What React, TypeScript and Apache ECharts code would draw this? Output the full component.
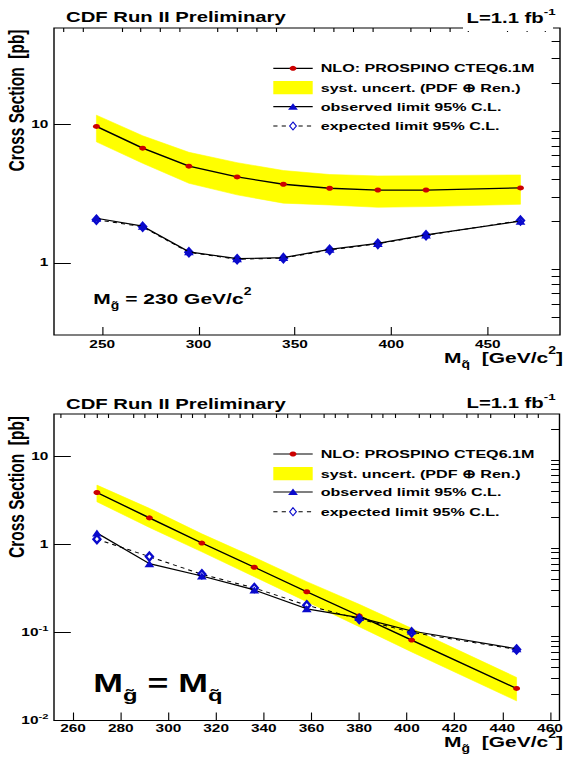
import React, { useEffect, useRef } from 'react';
import * as echarts from 'echarts';

// ---------- data ----------
// Upper panel: M_gluino = 230 GeV/c^2, x = squark mass
const topMass = [247, 271, 295, 320, 344, 368, 393, 418, 467];
const topNLO = [9.7, 6.75, 5.0, 4.18, 3.7, 3.46, 3.36, 3.36, 3.48];
const topBandUp = [11.7, 8.3, 6.3, 5.3, 4.65, 4.35, 4.25, 4.27, 4.32];
const topBandLo = [7.5, 5.25, 3.76, 3.1, 2.7, 2.62, 2.52, 2.55, 2.65];
const topObs = [2.1, 1.84, 1.2, 1.07, 1.09, 1.25, 1.38, 1.59, 2.0];
const topExp = [2.05, 1.82, 1.19, 1.06, 1.08, 1.24, 1.37, 1.58, 2.02];

// Lower panel: M_gluino = M_squark, x = gluino mass
const botMass = [270, 292, 314, 336, 358, 380, 402, 446];
const botNLO = [3.86, 1.99, 1.03, 0.548, 0.289, 0.154, 0.0817, 0.0231];
const botBandUp = [4.68, 2.55, 1.31, 0.71, 0.376, 0.208, 0.111, 0.0308];
const botBandLo = [3.03, 1.55, 0.82, 0.428, 0.223, 0.116, 0.06, 0.0167];
const botObs = [1.34, 0.602, 0.436, 0.303, 0.185, 0.147, 0.1035, 0.0651];
const botExp = [1.14, 0.723, 0.456, 0.319, 0.203, 0.142, 0.1, 0.064];

// tick values
const topXMajor = [250, 300, 350, 400, 450];
const topXMinor = [230, 240, 260, 270, 280, 290, 310, 320, 330, 340, 360, 370, 380, 390, 410, 420, 430, 440, 460, 470, 480];
const botXMajor = [260, 280, 300, 320, 340, 360, 380, 400, 420, 440, 460];
const botXMinor = [255, 265, 270, 275, 285, 290, 295, 305, 310, 315, 325, 330, 335, 345, 350, 355, 365, 370, 375, 385, 390, 395, 405, 410, 415, 425, 430, 435, 445, 450, 455];
const topYMajor = [1, 10];
const topYMinor = [0.4, 0.5, 0.6, 0.7, 0.8, 0.9, 2, 3, 4, 5, 6, 7, 8, 9, 20, 30, 40];
const botYMajor = [0.01, 0.1, 1, 10];
const botYMinor = [0.02, 0.03, 0.04, 0.05, 0.06, 0.07, 0.08, 0.09, 0.2, 0.3, 0.4, 0.5, 0.6, 0.7, 0.8, 0.9, 2, 3, 4, 5, 6, 7, 8, 9, 20];

const legendLabels = [
  'NLO: PROSPINO CTEQ6.1M',
  'syst. uncert. (PDF \u2295 Ren.)',
  'observed limit 95% C.L.',
  'expected limit 95% C.L.',
];

// ---------- layout ----------
const XS = 1.4; // the reference is horizontally stretched
const CW = 567 / XS;
const CH = 757;
const px = (v: number) => v / XS;
const FONT = '"Liberation Sans", Arial, Helvetica, sans-serif';
const RED = '#cc0000';
const BLUE = '#0a0acc';
const YELLOW = '#ffff00';

const GL = px(54);
const GW = px(560) - px(54);

function zip(xs: number[], ys: number[]) {
  return xs.map((x, i) => [x, ys[i]]);
}

function bandSeries(mass: number[], lo: number[], up: number[], ai: number) {
  return {
    type: 'custom',
    xAxisIndex: ai,
    yAxisIndex: ai,
    silent: true,
    z: 1,
    data: mass.map((m, i) => [m, lo[i], up[i]]),
    encode: { x: 0, y: [1, 2] },
    renderItem: (params: any, api: any) => {
      if (params.dataIndex !== 0) return null;
      const pts: number[][] = [];
      for (let i = 0; i < mass.length; i++) pts.push(api.coord([mass[i], up[i]]));
      for (let i = mass.length - 1; i >= 0; i--) pts.push(api.coord([mass[i], lo[i]]));
      return { type: 'polygon', shape: { points: pts }, style: { fill: YELLOW, stroke: YELLOW, lineWidth: 0.5 } };
    },
  };
}

function lineSeries(mass: number[], nlo: number[], obs: number[], exp: number[], ai: number) {
  return [
    {
      type: 'line', xAxisIndex: ai, yAxisIndex: ai, z: 3, data: zip(mass, nlo),
      symbol: 'circle', symbolSize: 5, showSymbol: true,
      itemStyle: { color: RED, borderWidth: 0 },
      lineStyle: { color: '#000', width: 1.3 },
    },
    {
      type: 'line', xAxisIndex: ai, yAxisIndex: ai, z: 4, data: zip(mass, exp),
      symbol: 'emptyDiamond', symbolSize: [5, 8], showSymbol: true,
      itemStyle: { color: BLUE, borderColor: BLUE, borderWidth: 0.9 },
      lineStyle: { color: '#000', width: 1, type: [3, 3] },
    },
    {
      type: 'line', xAxisIndex: ai, yAxisIndex: ai, z: 5, data: zip(mass, obs),
      symbol: 'triangle', symbolSize: 7, showSymbol: true,
      itemStyle: { color: BLUE, borderWidth: 0 },
      lineStyle: { color: '#000', width: 1.2 },
    },
  ];
}

const labelBase = { color: '#000', fontSize: 11, fontWeight: 'bold', fontFamily: FONT };
const tickX = { color: '#000', width: 0.8 };
const tickY = { color: '#000', width: 1 };

function xAxes(gi: number, min: number, max: number, major: number[], minor: number[], margin: number) {
  return [
    {
      gridIndex: gi, type: 'value', min, max,
      axisLine: { show: false }, splitLine: { show: false },
      axisTick: { show: true, inside: true, length: 8, customValues: major, lineStyle: tickX },
      axisLabel: { ...labelBase, margin, customValues: major },
    },
    {
      gridIndex: gi, type: 'value', min, max,
      axisLine: { show: false }, splitLine: { show: false },
      axisTick: { show: true, inside: true, length: 4, customValues: minor, lineStyle: tickX },
      axisLabel: { show: false },
    },
  ];
}

function yLabel(v: number) {
  const e = Math.round(Math.log10(v));
  if (e === 1) return '{b|10}';
  if (e === 0) return '{b|1}';
  return '{b|10}{s|' + e + '}';
}

function yAxes(gi: number, min: number, max: number, major: number[], minor: number[]) {
  return [
    {
      gridIndex: gi, type: 'log', logBase: 10, min, max,
      axisLine: { show: false }, splitLine: { show: false },
      axisTick: { show: true, inside: true, length: 12, customValues: major, lineStyle: tickY },
      axisLabel: {
        ...labelBase, margin: 4, customValues: major, formatter: yLabel,
        rich: {
          b: { ...labelBase, lineHeight: 17, verticalAlign: 'middle' },
          s: { ...labelBase, fontSize: 8, lineHeight: 8, verticalAlign: 'top' },
        },
      },
    },
    {
      gridIndex: gi, type: 'log', logBase: 10, min, max,
      axisLine: { show: false }, splitLine: { show: false },
      axisTick: { show: true, inside: true, length: 6, customValues: minor, lineStyle: tickY },
      axisLabel: { show: false },
    },
  ];
}

function rich(size: number, small: number) {
  return {
    m: { fontSize: size, fontWeight: 'bold', fontFamily: FONT, fill: '#000', lineHeight: Math.round(size * 1.6), verticalAlign: 'middle' },
    s: { fontSize: small, fontWeight: 'bold', fontFamily: FONT, fill: '#000', lineHeight: small, verticalAlign: 'bottom' },
    p: { fontSize: small, fontWeight: 'bold', fontFamily: FONT, fill: '#000', lineHeight: small, verticalAlign: 'top' },
  };
}

function text(x: number, y: number, t: string, size: number, extra: any = {}) {
  return {
    type: 'text', x, y, z: 100, silent: true,
    style: { text: t, fill: '#000', fontSize: size, fontWeight: 'bold', fontFamily: FONT, align: 'left', verticalAlign: 'middle', ...extra },
  };
}

function legend(rows: number[]) {
  const x1 = px(273.3);
  const x2 = px(312.7);
  const cx = (x1 + x2) / 2;
  const tx = px(320.7);
  const els: any[] = [];
  // NLO
  els.push({ type: 'line', z: 100, shape: { x1, y1: rows[0], x2, y2: rows[0] }, style: { stroke: '#000', lineWidth: 1.2 } });
  els.push({ type: 'circle', z: 101, shape: { cx, cy: rows[0], r: 2.5 }, style: { fill: RED } });
  // band
  els.push({ type: 'rect', z: 100, shape: { x: x1, y: rows[1] - 6.7, width: x2 - x1, height: 13.3 }, style: { fill: YELLOW } });
  // observed
  els.push({ type: 'line', z: 100, shape: { x1, y1: rows[2], x2, y2: rows[2] }, style: { stroke: '#000', lineWidth: 1.2 } });
  els.push({ type: 'polygon', z: 101, shape: { points: [[cx - 3.5, rows[2] + 3], [cx + 3.5, rows[2] + 3], [cx, rows[2] - 3.5]] }, style: { fill: BLUE } });
  // expected
  els.push({ type: 'line', z: 100, shape: { x1, y1: rows[3], x2, y2: rows[3] }, style: { stroke: '#000', lineWidth: 1, lineDash: [3, 3] } });
  els.push({ type: 'polygon', z: 101, shape: { points: [[cx, rows[3] - 4], [cx + 2.4, rows[3]], [cx, rows[3] + 4], [cx - 2.4, rows[3]]] }, style: { fill: '#fff', stroke: BLUE, lineWidth: 0.9 } });
  legendLabels.forEach((l, i) => els.push(text(tx, rows[i], l, 11.5)));
  return els;
}

function buildOption() {
  const graphic: any[] = [
    // gap in the top frame line under the luminosity label
    { type: 'rect', z: 50, silent: true, shape: { x: px(463), y: 25, width: px(553) - px(463), height: 6 }, style: { fill: '#fff' } },
    text(px(66), 17, 'CDF Run II Preliminary', 14.5),
    text(px(466.5), 18.3, '{m|L=1.1 fb}{p|-1}', 14.5, { rich: rich(14.5, 9.5) }),
    text(px(66), 403.7, 'CDF Run II Preliminary', 14.5),
    text(px(466.5), 403.5, '{m|L=1.1 fb}{p|-1}', 14.5, { rich: rich(14.5, 9.5) }),
    // y titles
    { ...text(px(17), 100.5, 'Cross Section  [pb]', 15.5, { align: 'center' }), rotation: Math.PI / 2 },
    { ...text(px(17), 487, 'Cross Section  [pb]', 15.5, { align: 'center' }), rotation: Math.PI / 2 },
    // x titles
    text(px(563), 358, '{m|M}{s|q\u0303}{m|  [GeV/c}{p|2}{m|]}', 15, { align: 'right', rich: rich(15, 10) }),
    text(px(563), 742, '{m|M}{s|g\u0303}{m|  [GeV/c}{p|2}{m|]}', 15, { align: 'right', rich: rich(15, 10) }),
    // annotations
    text(px(93.3), 299, '{m|M}{s|g\u0303}{m| = 230 GeV/c}{p|2}', 15, { rich: rich(15, 10) }),
    text(px(93.3), 683, '{m|M}{s|g\u0303}{m| = M}{s|q\u0303}', 25.5, { rich: rich(25.5, 17) }),
    ...legend([68.3, 87.7, 106.7, 126]),
    ...legend([454, 473.7, 492, 511.7]),
  ];

  return {
    animation: false,
    backgroundColor: '#fff',
    grid: [
      { left: GL, top: 28, width: GW, height: 307, show: true, borderColor: '#000', borderWidth: 1, backgroundColor: 'transparent' },
      { left: GL, top: 414, width: GW, height: 306.5, show: true, borderColor: '#000', borderWidth: 1, backgroundColor: 'transparent' },
    ],
    xAxis: [
      ...xAxes(0, 225, 487.5, topXMajor, topXMinor, 4),
      ...xAxes(1, 252, 464, botXMajor, botXMinor, 2),
    ],
    yAxis: [
      ...yAxes(0, 0.3, 50, topYMajor, topYMinor),
      ...yAxes(1, 0.01, 30, botYMajor, botYMinor),
    ],
    series: [
      bandSeries(topMass, topBandLo, topBandUp, 0),
      ...lineSeries(topMass, topNLO, topObs, topExp, 0),
      bandSeries(botMass, botBandLo, botBandUp, 2),
      ...lineSeries(botMass, botNLO, botObs, botExp, 2),
    ],
    graphic,
  };
}

export default function App() {
  const ref = useRef<HTMLDivElement>(null);
  useEffect(() => {
    const el = ref.current;
    if (!el) return;
    const chart = echarts.init(el, null, { renderer: 'svg', width: CW, height: CH });
    chart.setOption(buildOption() as any);
    return () => chart.dispose();
  }, []);
  return (
    <div style={{ position: 'fixed', left: 0, top: 0, width: 567, height: 757, overflow: 'hidden', background: '#fff' }}>
      <div
        ref={ref}
        style={{ width: CW, height: CH, transform: `scaleX(${XS})`, transformOrigin: '0 0' }}
      />
    </div>
  );
}
